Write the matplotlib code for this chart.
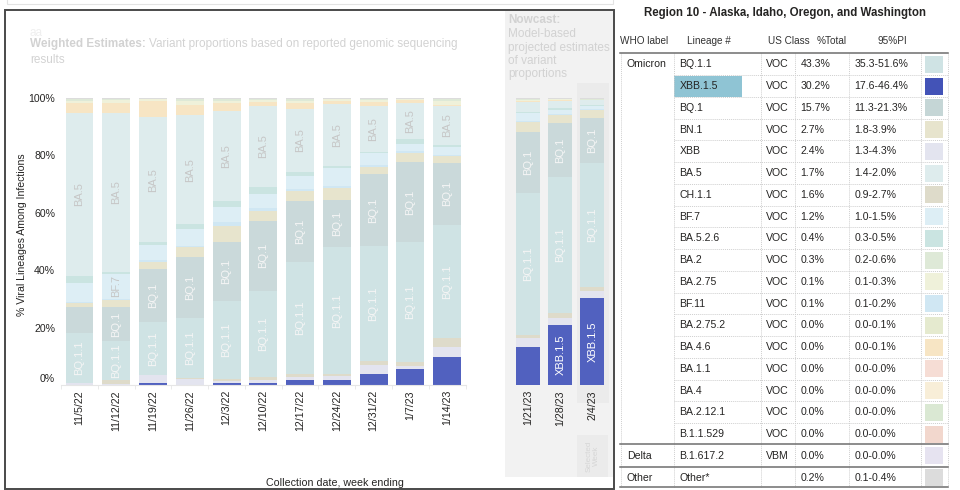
import numpy as np
import matplotlib.pyplot as plt
from matplotlib.patches import Rectangle
from matplotlib.transforms import ScaledTranslation

plt.rcParams['font.family'] = ['Liberation Sans', 'DejaVu Sans']

# weeks
weeks_obs = ['11/5/22', '11/12/22', '11/19/22', '11/26/22', '12/3/22', '12/10/22',
             '12/17/22', '12/24/22', '12/31/22', '1/7/23', '1/14/23']
weeks_now = ['1/21/23', '1/28/23', '2/4/23']

# shares per lineage (%), 11 observed weeks + 3 nowcast weeks, stacked bottom -> top
lineages = ['XBB.1.5', 'XBB', 'CH.1.1', 'BQ.1.1', 'BQ.1', 'BN.1', 'BF.11', 'BF.7',
            'BA.5.2.6', 'BA.5', 'BA.4.6', 'BA.2.75', 'BA.2', 'Other']
xbb15 = [0, 0, 0.6, 0, 0.6, 0.6, 1.7, 1.7, 3.7, 5.5, 9.9, 13.4, 20.9, 30.2]
xbb = [0.8, 0.5, 2.9, 2.0, 0.9, 1.1, 1.0, 1.6, 3.3, 1.1, 3.5, 2.9, 2.3, 2.4]
ch11 = [0, 1.2, 0, 0.3, 0.5, 1.0, 1.0, 0.5, 1.5, 1.5, 2.9, 1.1, 1.8, 1.6]
bq11 = [17.2, 13.7, 18.6, 21.2, 27.4, 30.2, 39.3, 44.2, 39.9, 41.6, 39.4, 49.6, 47.4, 43.3]
bq1 = [9.3, 11.7, 18.2, 21.0, 20.5, 24.4, 21.1, 16.5, 25.1, 28.1, 21.8, 21.0, 18.8, 15.7]
bn1 = [1.2, 2.5, 2.7, 3.5, 5.5, 3.4, 3.6, 4.3, 2.3, 3.2, 2.3, 3.5, 2.9, 2.7]
bf11 = [0.5, 0.5, 0.6, 0.5, 1.4, 0.8, 0.6, 0.7, 0.8, 0.4, 0.4, 0.4, 0.3, 0.1]
bf7 = [6.4, 8.6, 5.2, 6.0, 5.3, 5.1, 4.5, 6.0, 4.1, 2.5, 2.8, 2.8, 1.4, 1.2]
ba526 = [2.6, 0.8, 0.9, 1.5, 2.0, 2.3, 1.5, 0.8, 0.6, 1.8, 0.6, 0.5, 0.6, 0.4]
ba5 = [56.9, 55.2, 43.6, 38.1, 31.5, 28.4, 21.8, 21.6, 16.0, 12.7, 13.6, 3.5, 2.6, 1.7]
ba46 = [3.2, 3.7, 5.7, 3.5, 2.5, 1.4, 2.0, 1.2, 1.4, 0.8, 0.5, 0.3, 0.2, 0.0]
ba275 = [0.9, 0.8, 0.5, 1.2, 1.0, 0.7, 1.0, 0.5, 0.7, 0.4, 1.3, 0.4, 0.3, 0.1]
ba2 = [0.5, 0.4, 0.3, 0.8, 0.5, 0.4, 0.5, 0.2, 0.4, 0.2, 0.8, 0.4, 0.3, 0.3]
other = [0.5, 0.4, 0.2, 0.4, 0.4, 0.2, 0.4, 0.2, 0.2, 0.2, 0.2, 0.2, 0.2, 0.2]
shares = [xbb15, xbb, ch11, bq11, bq1, bn1, bf11, bf7, ba526, ba5, ba46, ba275, ba2, other]

colors = {
    'BQ.1.1': '#cfe3e4', 'XBB.1.5': '#5161bf', 'BQ.1': '#cad9da', 'BN.1': '#e7e4cd',
    'XBB': '#e3e4ef', 'BA.5': '#deeced', 'CH.1.1': '#dedbca', 'BF.7': '#ddeef5',
    'BA.5.2.6': '#cae4e1', 'BA.2': '#dee9d7', 'BA.2.75': '#eff1da', 'BF.11': '#d0e7f3',
    'BA.2.75.2': '#e5eacf', 'BA.4.6': '#f7e5c4', 'BA.1.1': '#f6ddd5', 'BA.4': '#f8eed8',
    'BA.2.12.1': '#dae8d3', 'B.1.1.529': '#f2d7cd', 'B.1.617.2': '#e6e3f0', 'Other': '#dcdcdc',
}
labelled = {'XBB.1.5': 'white', 'BQ.1.1': '#f5f5f5', 'BQ.1': '#f5f5f5',
            'BF.7': '#c6c6c6', 'BA.5': '#c6c6c6'}

# table
tbl_who = ['Omicron'] + [''] * 17 + ['Delta', 'Other']
tbl_lineage = ['BQ.1.1', 'XBB.1.5', 'BQ.1', 'BN.1', 'XBB', 'BA.5', 'CH.1.1', 'BF.7',
               'BA.5.2.6', 'BA.2', 'BA.2.75', 'BF.11', 'BA.2.75.2', 'BA.4.6', 'BA.1.1',
               'BA.4', 'BA.2.12.1', 'B.1.1.529', 'B.1.617.2', 'Other*']
tbl_class = ['VOC'] * 18 + ['VBM', '']
tbl_total = ['43.3%', '30.2%', '15.7%', '2.7%', '2.4%', '1.7%', '1.6%', '1.2%', '0.4%',
             '0.3%', '0.1%', '0.1%', '0.0%', '0.0%', '0.0%', '0.0%', '0.0%', '0.0%',
             '0.0%', '0.2%']
tbl_pi = ['35.3-51.6%', '17.6-46.4%', '11.3-21.3%', '1.8-3.9%', '1.3-4.3%', '1.4-2.0%',
          '0.9-2.7%', '1.0-1.5%', '0.3-0.5%', '0.2-0.6%', '0.1-0.3%', '0.1-0.2%',
          '0.0-0.1%', '0.0-0.1%', '0.0-0.0%', '0.0-0.0%', '0.0-0.0%', '0.0-0.0%',
          '0.0-0.0%', '0.1-0.4%']
swatch = dict(colors)
swatch['XBB.1.5'] = '#4353b7'
swatch['BQ.1'] = '#c5d6d6'
swatch['Other*'] = '#dcdcdc'

W, H = 960, 490
fig = plt.figure(figsize=(W / 100, H / 100), dpi=100)


def rect(x0, y0, x1, y1):
    return [x0 / W, 1 - y1 / H, (x1 - x0) / W, (y1 - y0) / H]


bg = fig.add_axes([0, 0, 1, 1], zorder=0)
bg.set_xlim(0, W)
bg.set_ylim(H, 0)
bg.axis('off')

# panels
bg.add_patch(Rectangle((7, -2), 606, 6, fill=False, ec='#e3e3e3', lw=0.8))
bg.add_patch(Rectangle((505, 11.5), 108, 465, color='#f2f2f2', lw=0))
bg.add_patch(Rectangle((576.5, 83), 32, 320, color='#ebebeb', lw=0))
bg.add_patch(Rectangle((577, 435), 31, 42, color='#ebebeb', lw=0))
bg.text(592.5, 456, 'Selected\nWeek', rotation=90, ha='center', va='center',
        fontsize=5.8, color='#d6d6d6', linespacing=1.1)
bg.add_patch(Rectangle((5, 10), 609, 479, fill=False, ec='#4a4a4a', lw=1.4))

txt_col = '#252423'
faint = '#d2d2d2'
bg.text(30, 33, 'aa', fontsize=8.5, color='#efefef', va='center')
t1 = bg.text(30, 50.5, 'Weighted Estimates:', fontsize=8.5, color=faint,
             weight='bold', va='bottom')
bg.annotate('Variant proportions based on reported genomic sequencing', xy=(1, 0),
            xycoords=t1, xytext=(2.5, 0), textcoords='offset points',
            fontsize=8.5, color=faint, va='bottom')
bg.text(30, 60, 'results', fontsize=8.5, color=faint, va='center')

bg.text(508, 20, 'Nowcast:', fontsize=8.5, color=faint, weight='bold', va='center')
for yy, line in zip([34, 47.5, 61, 74.5],
                    ['Model-based', 'projected estimates', 'of variant', 'proportions']):
    bg.text(508, yy, line, fontsize=8.5, color=faint, va='center')

bg.text(22, 235, '% Viral Lineages Among Infections', rotation=90, ha='center',
        va='center', fontsize=7.6, color=txt_col)
bg.text(335, 483, 'Collection date, week ending', ha='center', va='center',
        fontsize=7.7, color=txt_col)

# bar charts
ax = fig.add_axes(rect(61.1, 98, 465.5, 385), zorder=1)
axn = fig.add_axes(rect(512.3, 98, 608.3, 385), zorder=1)
seg_texts = []
for a, sl, labels in [(ax, slice(0, 11), weeks_obs), (axn, slice(11, 14), weeks_now)]:
    a.set_facecolor('none')
    n = len(labels)
    x = np.arange(n)
    bottom = np.zeros(n)
    for name, vals in zip(lineages, shares):
        v = np.array(vals[sl], dtype=float)
        a.bar(x, v, 0.76, bottom=bottom, color=colors[name], lw=0)
        if name in labelled:
            for xi, b, h in zip(x, bottom, v):
                if h > 0:
                    t = a.text(xi, b + h / 2, name, rotation=90, ha='center',
                               va='center', fontsize=8, color=labelled[name])
                    seg_texts.append((t, a, h))
        bottom += v
    a.set_xlim(-0.5, n - 0.5)
    a.set_ylim(0, 100)
    for s in ['top', 'right', 'left']:
        a.spines[s].set_visible(False)
    a.set_xticks(x)
    a.set_xticklabels(labels, rotation=90)
    a.tick_params(axis='x', length=0, pad=3.6, labelsize=7.7, labelcolor=txt_col)

ax.spines['bottom'].set_color('#e6e6e6')
ax.set_xticks(np.arange(-0.5, 11, 1), minor=True)
ax.tick_params(axis='x', which='minor', length=3, color='#e6e6e6')
ax.set_yticks(np.arange(0, 101, 20))
ax.set_yticklabels([f'{v}%' for v in range(0, 101, 20)])
ax.tick_params(axis='y', length=0, pad=4.3, labelsize=7.6, labelcolor=txt_col)
zero_lab = ax.get_yticklabels()[0]
zero_lab.set_transform(zero_lab.get_transform() + ScaledTranslation(0, 7 / 100, fig.dpi_scale_trans))
axn.spines['bottom'].set_visible(False)
axn.set_yticks([])

# drop segment labels that do not fit
fig.canvas.draw()
renderer = fig.canvas.get_renderer()
for t, a, h in seg_texts:
    seg_px = h / 100 * a.get_window_extent().height
    if t.get_window_extent(renderer).height + 2 > seg_px:
        t.remove()

# table
bg.text(785, 13, 'Region 10 - Alaska, Idaho, Oregon, and Washington', ha='center',
        va='center', fontsize=8.3, weight='bold', color=txt_col)
for hx, htxt in zip([620, 687, 767.5, 817, 877],
                    ['WHO label', 'Lineage #', 'US Class', '%Total', '95%PI']):
    bg.text(hx, 41, htxt, fontsize=7.2, color='#333333', va='center')

row_h = 21.75
row_y = [64.3 + row_h * i for i in range(len(tbl_lineage))]
bg.add_patch(Rectangle((674.3, 76), 67.4, 21.3, color='#8fc4d4', lw=0))
for i in range(1, 18):
    yy = row_y[i] - row_h / 2
    bg.plot([674.3, 948.3], [yy, yy], color='#cfcfcf', lw=0.7, ls=(0, (1, 1)))
for xv in [621, 674.3, 760.7, 795, 849.3, 921, 948.3]:
    bg.plot([xv, xv], [53, 487.3], color='#cfcfcf', lw=0.7, ls=(0, (1, 1)))
for yy in [53, 444.3, 466.7, 487.3]:
    bg.plot([620, 948.3], [yy, yy], color='#6e6e6e', lw=1.1)

for i, yy in enumerate(row_y):
    if tbl_who[i]:
        bg.text(626.7, yy, tbl_who[i], fontsize=7.6, color=txt_col, va='center')
    bg.text(679.3, yy, tbl_lineage[i], fontsize=7.6, color=txt_col, va='center')
    bg.text(766, yy, tbl_class[i], fontsize=7.6, color=txt_col, va='center')
    bg.text(800.7, yy, tbl_total[i], fontsize=7.6, color=txt_col, va='center')
    bg.text(854.3, yy, tbl_pi[i], fontsize=7.6, color=txt_col, va='center')
    bg.add_patch(Rectangle((925, yy - 8.5), 18.3, 17, color=swatch[tbl_lineage[i]], lw=0))

fig.savefig('out.png', dpi=100)
